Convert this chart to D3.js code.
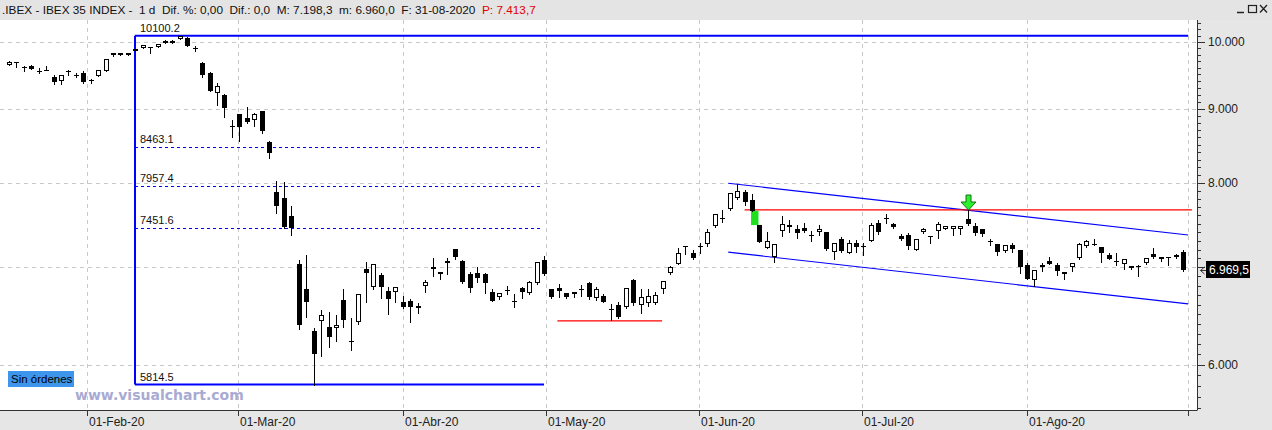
<!DOCTYPE html>
<html>
<head>
<meta charset="utf-8">
<script src="https://cdn.jsdelivr.net/npm/d3@7"></script>
<style>
  body { margin: 0; background: #fff; }
  svg { display: block; font-family: "Liberation Sans", Arial, sans-serif; }
</style>
</head>
<body>
<svg id="chart" width="1272" height="430"></svg>
<script>
// Daily IBEX 35 bars, 17-Jan-2020 .. 31-Aug-2020
const opens = [9643, 9678, 9590, 9628, 9552, 9567, 9456, 9405, 9544, 9495,
    9526, 9409, 9476, 9556, 9790, 9795, 9800, 9882, 9906, 9922,
    9927, 9980, 9984, 10048, 10059, 9906, 9669, 9526, 9220, 9195,
    8754, 8922, 8862, 8838, 8965, 8531, 7881, 7814, 7591, 7036,
    6764, 6329, 6433, 6366, 6362, 6647, 6229, 6417, 6981, 6782,
    6915, 6742, 6735, 6623, 6637, 6559, 6799, 6977, 6923, 7044,
    7202, 7070, 6923, 6934, 6923, 6735, 6676, 6756, 6633, 6778,
    6718, 6824, 7081, 6764, 6771, 6718, 6708, 6764, 6824, 6665,
    6690, 6555, 6594, 6576, 6860, 6594, 6611, 6611, 6760, 6934,
    7036, 7234, 7156, 7236, 7259, 7476, 7567, 7675, 7807, 7889,
    7786, 7484, 7220, 7111, 7417, 7457, 7433, 7445, 7366, 7405,
    7405, 7175, 7320, 7160, 7277, 7236, 7296, 7504, 7567, 7496,
    7358, 7366, 7194, 7398, 7351, 7417, 7437, 7437, 7437, 7555,
    7472, 7433, 7293, 7262, 7186, 7251, 7194, 7025, 6860, 6999,
    7073, 7025, 6923, 6999, 7100, 7243, 7266, 7225, 7137, 7066,
    7036, 7014, 7011, 7044, 7148, 7089, 7115, 7111, 7175];
const highs = [9704, 9689, 9620, 9635, 9590, 9628, 9491, 9491, 9567, 9526,
    9556, 9438, 9570, 9734, 9830, 9834, 9834, 9890, 9955, 9925,
    9972, 10025, 10025, 10100.2, 10080, 9937, 9694, 9529, 9367, 9209,
    8838, 8929, 9017, 8941, 8969, 8552, 8028, 8015, 7712, 7081,
    7137, 6356, 6542, 6518, 6491, 6764, 6457, 6711, 7059, 7036,
    6934, 6782, 6785, 6689, 6658, 6618, 6860, 7100, 6948, 7100,
    7205, 7081, 6945, 7000, 6934, 6760, 6721, 6796, 6708, 6789,
    6849, 7059, 7126, 6769, 6817, 6726, 6732, 6806, 6842, 6782,
    6711, 6604, 6629, 6774, 6868, 6764, 6760, 6735, 6855, 7017,
    7214, 7242, 7194, 7271, 7434, 7622, 7663, 7876, 7986, 7910,
    7857, 7484, 7405, 7262, 7591, 7543, 7484, 7504, 7413, 7484,
    7407, 7279, 7346, 7308, 7308, 7271, 7511, 7543, 7622, 7511,
    7374, 7386, 7320, 7452, 7355, 7522, 7474, 7478, 7478, 7669,
    7511, 7437, 7326, 7264, 7253, 7270, 7196, 7044, 6972, 7044,
    7119, 7044, 6947, 7046, 7270, 7308, 7320, 7227, 7163, 7163,
    7091, 7020, 7025, 7102, 7214, 7120, 7117, 7148, 7198.3];
const lows = [9635, 9613, 9552, 9582, 9514, 9560, 9364, 9364, 9491, 9456,
    9367, 9371, 9470, 9552, 9786, 9790, 9795, 9858, 9904, 9827,
    9925, 9978, 9982, 10045, 9937, 9863, 9466, 9253, 9050, 8884,
    8603, 8552, 8796, 8754, 8653, 8317, 7630, 7445, 7366, 6349,
    6473, 5814.5, 6083, 6173, 6232, 6372, 6141, 6399, 6629, 6760,
    6665, 6501, 6629, 6559, 6423, 6514, 6735, 6904, 6868, 6923,
    7089, 6824, 6735, 6842, 6718, 6640, 6655, 6711, 6576, 6671,
    6716, 6822, 6915, 6673, 6676, 6669, 6676, 6690, 6655, 6647,
    6626, 6440, 6463, 6559, 6594, 6508, 6583, 6609, 6724, 6931,
    7033, 7148, 7098, 7160, 7240, 7457, 7522, 7663, 7805, 7724,
    7655, 7285, 7218, 7062, 7358, 7398, 7328, 7405, 7300, 7366,
    7194, 7089, 7176, 7156, 7175, 7137, 7294, 7378, 7511, 7449,
    7308, 7202, 7192, 7390, 7270, 7328, 7435, 7366, 7378, 7490,
    7366, 7355, 7251, 7143, 7175, 7175, 6934, 6869, 6795, 6962,
    7034, 6915, 6871, 6962, 7098, 7232, 7257, 7062, 7090, 7025,
    6984, 6977, 6907, 7042, 7108, 7073, 7025, 7103, 6960];
const closes = [9689, 9684, 9617, 9587, 9537, 9562, 9382, 9491, 9537, 9486,
    9382, 9401, 9567, 9730, 9825, 9830, 9830, 9866, 9953, 9917,
    9969, 10021, 10021, 10095, 9942, 9898, 9491, 9258, 9327, 9003,
    8740, 8745, 8814, 8918, 8689, 8383, 7715, 7464, 7445, 6389,
    6629, 6106, 6491, 6272, 6389, 6440, 6219, 6711, 6940, 7033,
    6782, 6658, 6782, 6576, 6576, 6583, 6836, 7003, 6945, 7070,
    7111, 6842, 6771, 6879, 6834, 6640, 6718, 6750, 6626, 6735,
    6836, 7055, 6926, 6676, 6746, 6676, 6729, 6758, 6676, 6760,
    6629, 6549, 6473, 6771, 6611, 6676, 6690, 6700, 6853, 7000,
    7163, 7240, 7100, 7230, 7405, 7622, 7559, 7876, 7898, 7757,
    7655, 7288, 7296, 7262, 7492, 7484, 7393, 7413, 7355, 7433,
    7202, 7277, 7180, 7270, 7232, 7228, 7484, 7398, 7559, 7457,
    7320, 7240, 7320, 7433, 7343, 7492, 7472, 7472, 7472, 7496,
    7386, 7380, 7285, 7175, 7251, 7205, 6999, 6871, 6970, 7025,
    7036, 6962, 6945, 7044, 7262, 7296, 7259, 7156, 7092, 7059,
    7089, 6995, 7003, 7100, 7111, 7118, 7107, 7137, 6969.5];

// x axis: month labels and the bar slot where each month starts
const monthLabels = ["01-Feb-20", "01-Mar-20", "01-Abr-20", "01-May-20", "01-Jun-20", "01-Jul-20", "01-Ago-20", ""];
const monthBars = [10.5, 30.8, 53, 72.3, 92.9, 114.8, 137, 158.7];

// y axis
const priceTicks = [6000, 7000, 8000, 9000, 10000];

// Fibonacci retracement drawn from the Feb high to the Mar low
const fibLevels = [10100.2, 8463.1, 7957.4, 7451.6, 5814.5];
const fibStartBar = 17;
const fibEndBar = 72;
const fibTopEndBar = 158.7;

// drawn trend lines: [bar, price, bar, price]
const channelUpper = [96.8, 7997, 158.7, 7368];
const channelLower = [96.8, 7170, 158.7, 6607];
const resistance = [99, 7666, 159.2, 7666];
const support = [73.8, 6431, 87.9, 6431];
const signalBar = 129;
const gapBar = 100;

const lastDate = "31-08-2020";
const prevClose = 7413.7;

const W = 1272, H = 430;
const plot = { left: 0, right: 1197, top: 20, bottom: 410 };

const es = d3.formatLocale({ decimal: ",", thousands: ".", grouping: [3], currency: ["", " €"] });
const fmtTick = es.format(",.0f");
const fmtPrice = es.format(",.1f");

const svg = d3.select("#chart");

const x = d3.scaleLinear().domain([0, 158]).range([9, 1183]);
const y = d3.scaleLog().domain([5814.5, 10100.2]).range([384.6, 35.7]);

const bars = opens.map((o, i) => ({ i, o, h: highs[i], l: lows[i], c: closes[i] }));
const last = closes[closes.length - 1];
const ly = Math.round(y(last));

// backgrounds
svg.append("rect").attr("width", W).attr("height", H).attr("fill", "#fff");

// grid
const grid = svg.append("g").attr("stroke", "#c9c9c9").attr("stroke-dasharray", "4,4");
grid.selectAll("line.h")
    .data(priceTicks)
    .join("line")
    .attr("x1", plot.left).attr("x2", plot.right)
    .attr("y1", d => Math.round(y(d)) + 0.5).attr("y2", d => Math.round(y(d)) + 0.5);
grid.selectAll("line.v")
    .data(monthBars)
    .join("line")
    .attr("x1", d => Math.round(x(d)) + 0.5).attr("x2", d => Math.round(x(d)) + 0.5)
    .attr("y1", plot.top).attr("y2", plot.bottom);

// fibonacci box
const fib = svg.append("g").attr("stroke", "#0000ff").attr("fill", "none");
const fx0 = Math.round(x(fibStartBar));
fib.append("line")
    .attr("x1", fx0).attr("x2", fx0)
    .attr("y1", y(fibLevels[0])).attr("y2", y(fibLevels[4]))
    .attr("stroke-width", 2);
fib.append("line")
    .attr("x1", fx0).attr("x2", x(fibTopEndBar))
    .attr("y1", y(fibLevels[0])).attr("y2", y(fibLevels[0]))
    .attr("stroke-width", 2);
fib.append("line")
    .attr("x1", fx0).attr("x2", x(fibEndBar))
    .attr("y1", y(fibLevels[4])).attr("y2", y(fibLevels[4]))
    .attr("stroke-width", 2);
fib.selectAll("line.mid")
    .data(fibLevels.slice(1, 4))
    .join("line")
    .attr("x1", fx0).attr("x2", x(fibEndBar - 0.5))
    .attr("y1", d => Math.round(y(d)) + 0.5).attr("y2", d => Math.round(y(d)) + 0.5)
    .attr("stroke-dasharray", "3,3");
svg.append("g")
    .selectAll("text")
    .data(fibLevels)
    .join("text")
    .attr("x", fx0 + 5)
    .attr("y", d => y(d) - 4)
    .style("font-size", "11px")
    .attr("fill", "#111")
    .text(d => d.toFixed(1));

// trend lines
const tl = (g, d, color) => g.append("line")
    .attr("x1", x(d[0])).attr("y1", y(d[1]))
    .attr("x2", x(d[2])).attr("y2", y(d[3]))
    .attr("stroke", color).attr("stroke-width", 1.2);
const lines = svg.append("g");
tl(lines, channelUpper, "#0000ff");
tl(lines, channelLower, "#0000ff");
tl(lines, resistance, "#ff0000");
tl(lines, support, "#ff0000");

// gap highlight
lines.append("rect")
    .attr("x", x(gapBar) - 1)
    .attr("width", x(gapBar + 1) - x(gapBar))
    .attr("y", y(closes[gapBar]))
    .attr("height", y(opens[gapBar + 1]) - y(closes[gapBar]))
    .attr("fill", "#1fe01f");

// candles
const cx = d => Math.round(x(d.i)) + 0.5;
const candles = svg.append("g").attr("class", "candles");
candles.selectAll("line.wick")
    .data(bars)
    .join("line")
    .attr("x1", cx).attr("x2", cx)
    .attr("y1", d => Math.round(y(d.h))).attr("y2", d => Math.round(y(d.l)) + 1)
    .attr("stroke", "#000");
candles.selectAll("rect.body")
    .data(bars)
    .join("rect")
    .attr("class", "body")
    .each(function (d) {
        const top = Math.round(y(Math.max(d.o, d.c)));
        const bot = Math.round(y(Math.min(d.o, d.c)));
        const h = Math.max(1, bot - top);
        const up = d.c > d.o && h > 2;
        d3.select(this)
            .attr("x", up ? cx(d) - 2 : cx(d) - 2.5)
            .attr("y", up ? top + 0.5 : top)
            .attr("width", up ? 4 : 5)
            .attr("height", up ? h - 1 : h)
            .attr("fill", up ? "#fff" : "#000")
            .attr("stroke", up ? "#000" : "none");
    });

// signal arrow above the bar that touched the resistance
const ax = cx(bars[signalBar]);
const ay = Math.round(y(highs[signalBar]));
svg.append("path")
    .attr("d", `M${ax - 2.5},${ay - 15} h5 v7 h5 l-7.5,8 l-7.5,-8 h5 z`)
    .attr("fill", "#2bf02b")
    .attr("stroke", "#1a6e1a")
    .attr("stroke-width", 1);

// bottom axis
svg.append("rect").attr("x", 0).attr("y", plot.bottom).attr("width", W).attr("height", H - plot.bottom).attr("fill", "#e6e6e6");
// right axis
svg.append("rect").attr("x", plot.right).attr("y", 0).attr("width", W - plot.right).attr("height", H).attr("fill", "#e6e6e6");
svg.append("line")
    .attr("x1", 0).attr("x2", plot.right + 0.5)
    .attr("y1", plot.bottom + 0.5).attr("y2", plot.bottom + 0.5)
    .attr("stroke", "#333");
const xa = svg.append("g");
xa.selectAll("line")
    .data(monthBars)
    .join("line")
    .attr("x1", d => Math.round(x(d)) + 0.5).attr("x2", d => Math.round(x(d)) + 0.5)
    .attr("y1", plot.bottom).attr("y2", plot.bottom + 6)
    .attr("stroke", "#333");
xa.selectAll("text")
    .data(monthBars)
    .join("text")
    .attr("x", d => Math.round(x(d)) + 2)
    .attr("y", 426)
    .style("font-size", "12px")
    .attr("fill", "#222")
    .text((d, i) => monthLabels[i]);

svg.append("line")
    .attr("x1", plot.right + 0.5).attr("x2", plot.right + 0.5)
    .attr("y1", 10).attr("y2", plot.bottom)
    .attr("stroke", "#333");
const ya = svg.append("g");
const minor = d3.range(5600, 10400, 100);
ya.selectAll("line")
    .data(minor)
    .join("line")
    .attr("x1", plot.right).attr("x2", d => plot.right + (d % 1000 === 0 ? 8 : 4))
    .attr("y1", d => Math.round(y(d)) + 0.5).attr("y2", d => Math.round(y(d)) + 0.5)
    .attr("stroke", "#333");
// the tick label hidden behind the last-price badge is left out
ya.selectAll("text")
    .data(priceTicks.filter(d => Math.abs(y(d) - ly) > 12))
    .join("text")
    .attr("x", plot.right + 11)
    .attr("y", d => y(d))
    .attr("dy", "0.35em")
    .style("font-size", "12px")
    .attr("fill", "#222")
    .text(d => fmtTick(d));

// last price badge
svg.append("path")
    .attr("d", `M${plot.right + 7.5},${ly - 3} L${plot.right + 3.5},${ly + 0.5} L${plot.right + 7.5},${ly + 4} M${plot.right + 3.5},${ly + 0.5} H${plot.right + 9}`)
    .attr("fill", "none").attr("stroke", "#333");
svg.append("rect")
    .attr("x", plot.right + 9).attr("y", ly - 9)
    .attr("width", 44).attr("height", 17)
    .attr("fill", "#000");
svg.append("text")
    .attr("x", plot.right + 12).attr("y", ly + 4)
    .style("font-size", "12px")
    .attr("fill", "#fff")
    .text(fmtPrice(last));

// title bar
svg.append("rect").attr("width", W).attr("height", plot.top).attr("fill", "#e4e4e4");
const hiLast = highs[highs.length - 1], loLast = lows[lows.length - 1];
const title = svg.append("text")
    .attr("x", 2).attr("y", 14)
    .style("font-size", "11.8px")
    .style("white-space", "pre")
    .attr("fill", "#111");
title.append("tspan")
    .text(`.IBEX - IBEX 35 INDEX -  1 d  Dif. %: 0,00  Dif.: 0,0  M: ${fmtPrice(hiLast)}  m: ${fmtPrice(loLast)}  F: ${lastDate}  `);
title.append("tspan")
    .attr("fill", "#e00000")
    .text(`P: ${fmtPrice(prevClose)}`);

// window buttons
const wb = svg.append("g").attr("stroke", "#222").attr("fill", "none");
wb.append("line").attr("x1", 1237).attr("x2", 1244).attr("y1", 12.5).attr("y2", 12.5).attr("stroke-width", 1.5);
wb.append("rect").attr("x", 1248.5).attr("y", 5.5).attr("width", 8).attr("height", 7).attr("stroke-width", 1.2);
wb.append("path").attr("d", "M1260,5 L1267,12.5 M1267,5 L1260,12.5").attr("stroke-width", 1.3);

// order badge and watermark
svg.append("rect").attr("x", 8).attr("y", 371).attr("width", 66).attr("height", 16).attr("fill", "#3d95ec");
svg.append("text").attr("x", 11).attr("y", 383).style("font-size", "11.5px").attr("fill", "#000").text("Sin órdenes");
svg.append("text").attr("x", 75).attr("y", 400)
    .style("font-family", "'DejaVu Sans', Verdana, sans-serif")
    .style("font-size", "14px").style("font-weight", "bold")
    .attr("fill", "#a9aad3")
    .text("www.visualchart.com");
</script>
</body>
</html>
